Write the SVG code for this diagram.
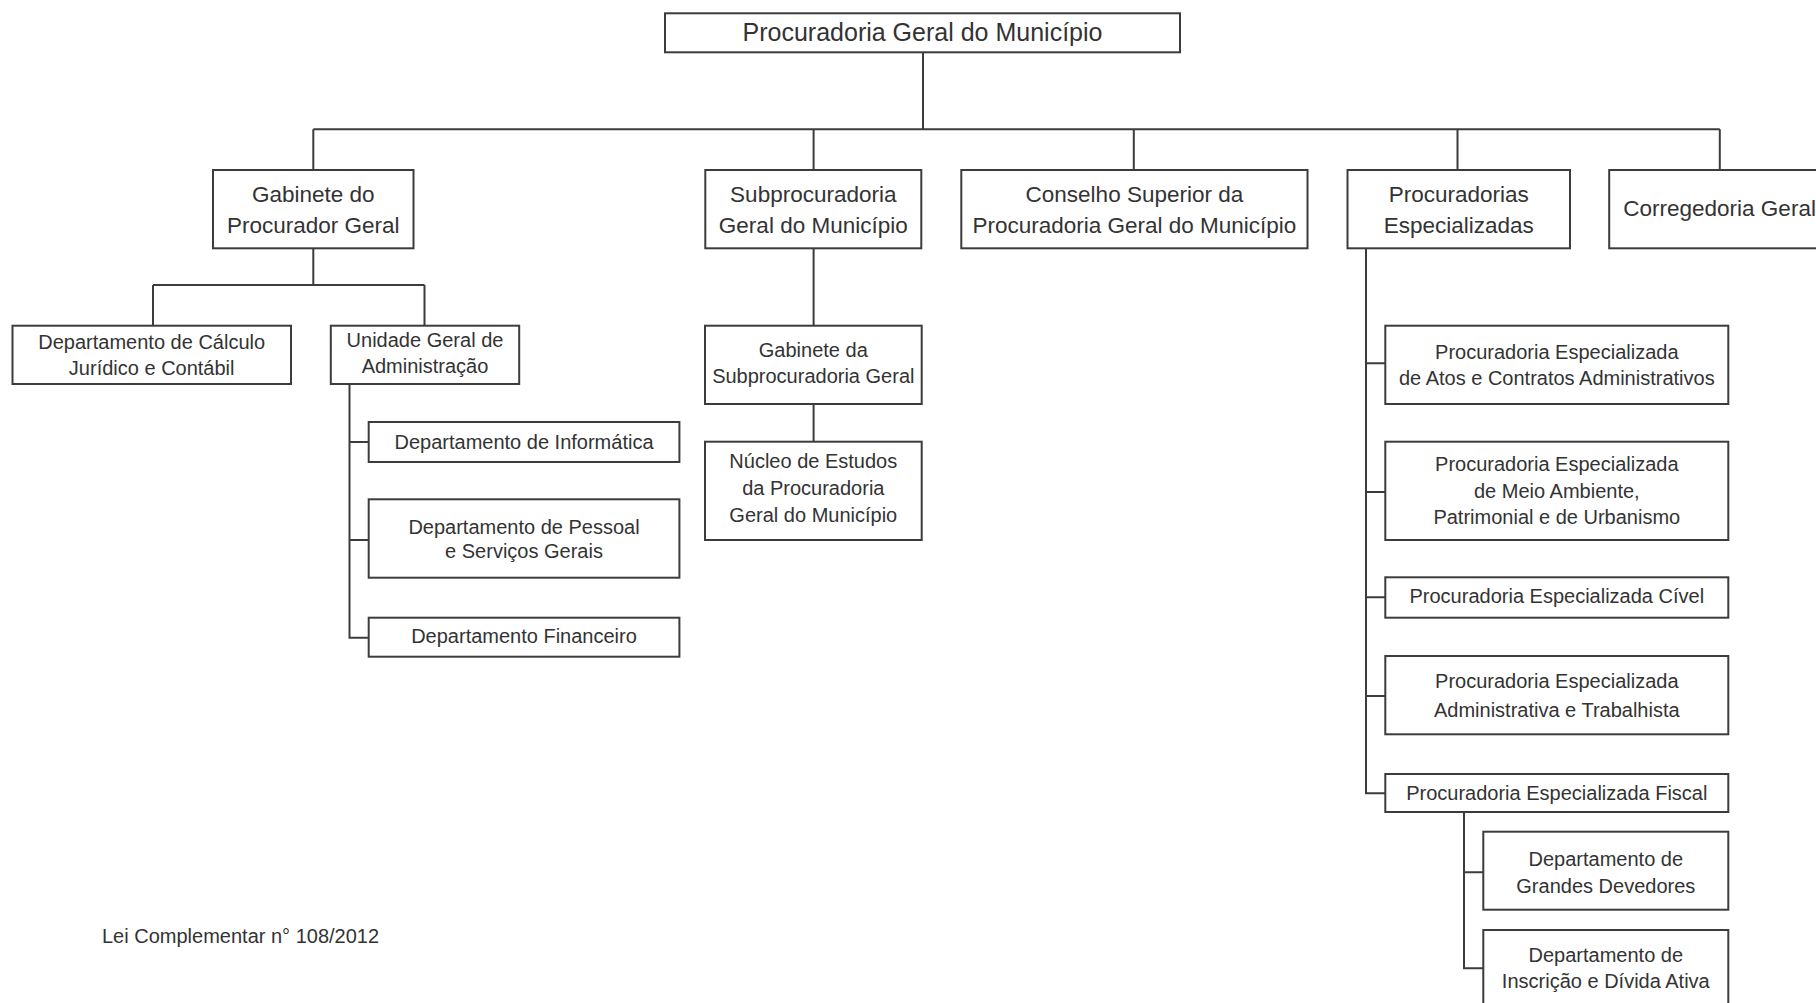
<svg xmlns="http://www.w3.org/2000/svg" width="1816" height="1003" viewBox="0 0 1816 1003">
<style>
.box{fill:#fff;stroke:#3c3c3c;stroke-width:2}
.con{fill:none;stroke:#3c3c3c;stroke-width:2}
text{font-family:"Liberation Sans",Arial,sans-serif;fill:#333;text-anchor:middle}
.t0{font-size:25px}
.t1{font-size:22.5px}
.t2{font-size:20px}
.note{font-size:20px;text-anchor:start}
</style>
<rect width="1816" height="1003" fill="#fff"/>
<g id="connectors">
<path class="con" d="M923 52.3V129.3M313.3 129.3H1719.8M313.3 129.3V170M813.6 129.3V170M1133.8 129.3V170M1457.5 129.3V170M1719.8 129.3V170"/>
<path class="con" d="M313.3 248.3V285M153 285H424.5M153 285V325.7M424.5 285V325.7"/>
<path class="con" d="M349.5 384V637.7H368.7M349.5 442H368.7M349.5 540H368.7"/>
<path class="con" d="M813.6 248.3V325.7M813.6 404V441.7"/>
<path class="con" d="M1366 248.3V793.3H1385.3M1366 363.3H1385.3M1366 492H1385.3M1366 597.3H1385.3M1366 696H1385.3"/>
<path class="con" d="M1464 812V968.3H1483.3M1464 872.3H1483.3"/>
</g>
<g id="pgm"><rect class="box" x="665" y="13.3" width="515" height="39"/><text class="t0" x="922.5" y="41">Procuradoria Geral do Município</text></g>
<g id="gabinete"><rect class="box" x="213" y="170" width="200.5" height="78.3"/><text class="t1" x="313.3" y="201.7">Gabinete do</text><text class="t1" x="313.3" y="233.3">Procurador Geral</text></g>
<g id="subprocuradoria"><rect class="box" x="705.3" y="170" width="216" height="78.3"/><text class="t1" x="813.3" y="201.7">Subprocuradoria</text><text class="t1" x="813.3" y="233.3">Geral do Município</text></g>
<g id="conselho"><rect class="box" x="961.3" y="170" width="346.2" height="78.3"/><text class="t1" x="1134.4" y="201.7">Conselho Superior da</text><text class="t1" x="1134.4" y="233.3">Procuradoria Geral do Município</text></g>
<g id="procuradorias"><rect class="box" x="1347.5" y="170" width="222.5" height="78.3"/><text class="t1" x="1458.7" y="201.7">Procuradorias</text><text class="t1" x="1458.7" y="233.3">Especializadas</text></g>
<g id="corregedoria"><rect class="box" x="1609.2" y="170" width="230" height="78.3"/><text class="t1" x="1719.6" y="216">Corregedoria Geral</text></g>
<g id="calculo"><rect class="box" x="12.5" y="325.7" width="278.5" height="58.3"/><text class="t2" x="151.7" y="349">Departamento de Cálculo</text><text class="t2" x="151.7" y="375">Jurídico e Contábil</text></g>
<g id="unidade"><rect class="box" x="330.8" y="325.7" width="188.4" height="58.3"/><text class="t2" x="425" y="347.3">Unidade Geral de</text><text class="t2" x="425" y="372.7">Administração</text></g>
<g id="informatica"><rect class="box" x="368.7" y="422" width="310.7" height="40"/><text class="t2" x="524" y="449.3">Departamento de Informática</text></g>
<g id="pessoal"><rect class="box" x="368.7" y="499.3" width="310.7" height="78.4"/><text class="t2" x="524" y="534">Departamento de Pessoal</text><text class="t2" x="524" y="558.3">e Serviços Gerais</text></g>
<g id="financeiro"><rect class="box" x="368.7" y="617.7" width="310.7" height="39"/><text class="t2" x="524" y="643.3">Departamento Financeiro</text></g>
<g id="gabinete-sub"><rect class="box" x="705" y="325.7" width="216.7" height="78.3"/><text class="t2" x="813.3" y="356.7">Gabinete da</text><text class="t2" x="813.3" y="382.7">Subprocuradoria Geral</text></g>
<g id="nucleo"><rect class="box" x="705" y="441.7" width="216.7" height="98.3"/><text class="t2" x="813.3" y="468.3">Núcleo de Estudos</text><text class="t2" x="813.3" y="495">da Procuradoria</text><text class="t2" x="813.3" y="521.7">Geral do Município</text></g>
<g id="pe-atos"><rect class="box" x="1385.3" y="325.7" width="343" height="78.3"/><text class="t2" x="1556.8" y="359.3">Procuradoria Especializada</text><text class="t2" x="1556.8" y="385">de Atos e Contratos Administrativos</text></g>
<g id="pe-meio"><rect class="box" x="1385.3" y="441.7" width="343" height="98.3"/><text class="t2" x="1556.8" y="471">Procuradoria Especializada</text><text class="t2" x="1556.8" y="498">de Meio Ambiente,</text><text class="t2" x="1556.8" y="524.3">Patrimonial e de Urbanismo</text></g>
<g id="pe-civel"><rect class="box" x="1385.3" y="577.3" width="343" height="40.4"/><text class="t2" x="1556.8" y="603.3">Procuradoria Especializada Cível</text></g>
<g id="pe-adm"><rect class="box" x="1385.3" y="656" width="343" height="78.3"/><text class="t2" x="1556.8" y="688.3">Procuradoria Especializada</text><text class="t2" x="1556.8" y="716.7">Administrativa e Trabalhista</text></g>
<g id="pe-fiscal"><rect class="box" x="1385.3" y="774" width="343" height="38"/><text class="t2" x="1556.8" y="800">Procuradoria Especializada Fiscal</text></g>
<g id="grandes"><rect class="box" x="1483.3" y="831.7" width="245" height="78"/><text class="t2" x="1605.8" y="866">Departamento de</text><text class="t2" x="1605.8" y="893.3">Grandes Devedores</text></g>
<g id="inscricao"><rect class="box" x="1483.3" y="930" width="245" height="90"/><text class="t2" x="1605.8" y="962.3">Departamento de</text><text class="t2" x="1605.8" y="988.3">Inscrição e Dívida Ativa</text></g>
<text class="note" x="102" y="943">Lei Complementar n° 108/2012</text>
</svg>
